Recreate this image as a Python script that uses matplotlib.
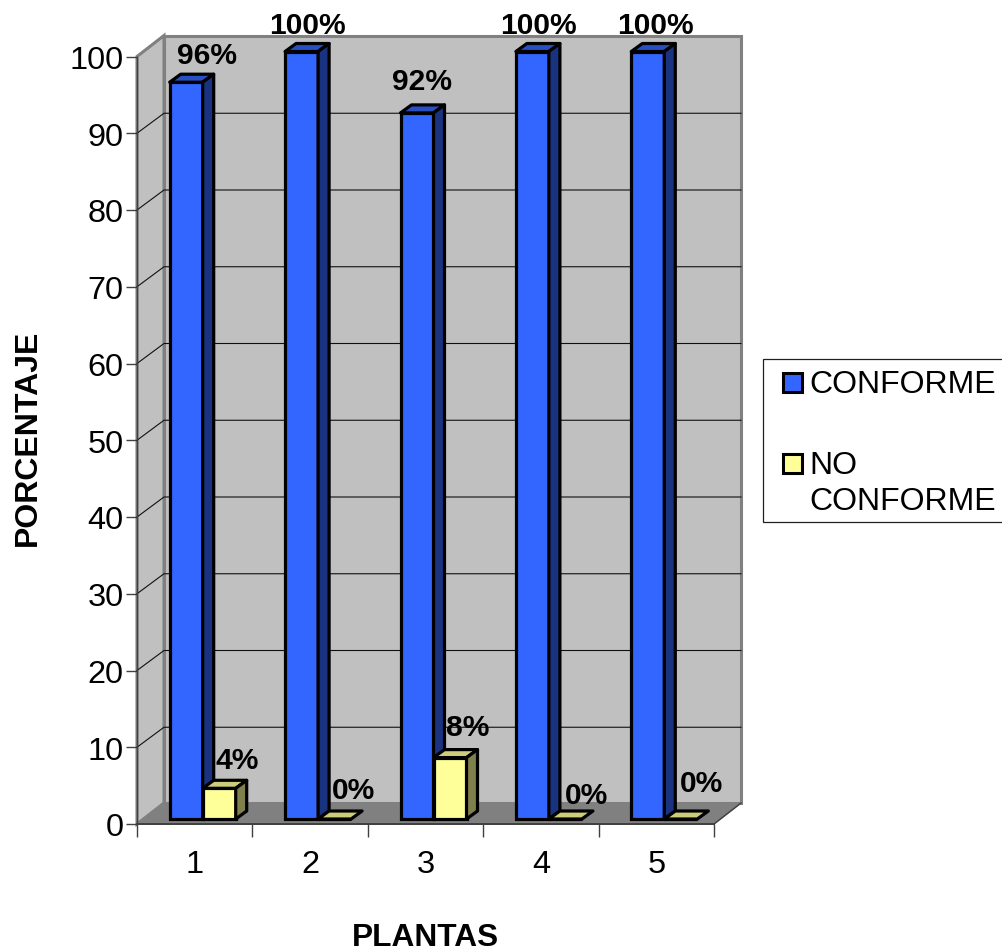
import matplotlib
matplotlib.use("Agg")
import matplotlib.pyplot as plt
from matplotlib.patches import Polygon, Rectangle

plt.rcParams['font.family'] = ['Liberation Sans', 'DejaVu Sans']

# data
plantas = [1, 2, 3, 4, 5]
conforme = [96, 100, 92, 100, 100]
no_conforme = [4, 0, 8, 0, 0]
series_names = ["CONFORME", "NO\nCONFORME"]
y_ticks = [0, 10, 20, 30, 40, 50, 60, 70, 80, 90, 100]

# label nudges, in pixels from the top of the bar front
conforme_nudge = [(21, 27), (6, 26), (5, 32), (6, 26), (8, 26)]
no_conforme_nudge = [(18, 28), (19, 29), (18, 31), (21, 24), (21, 36)]

W, H = 1002, 953
fig = plt.figure(figsize=(W / 100, H / 100), dpi=100, facecolor='white')
ax = fig.add_axes([137 / W, (H - 825) / H, 577 / W, 767.5 / H])
ax.set_xlim(0.5, 5.5)
ax.set_ylim(0, 100)
ax.patch.set_visible(False)

# pixels per data unit
sx = 577 / 5
sy = 767.5 / 100


def pt(x, y, px=0, py=0):
    # data point moved by a pixel offset (py is up)
    return (x + px / sx, y + py / sy)


wall_dx, wall_dy = 27, 21
grey = '#808080'

# walls and floor
back = Rectangle(pt(0.5, 0, wall_dx, wall_dy), 5, 100, fc='#C0C0C0', ec=grey, lw=2.2, zorder=1, clip_on=False)
ax.add_patch(back)
left = Polygon([pt(0.5, 0), pt(0.5, 0, wall_dx, wall_dy), pt(0.5, 100, wall_dx, wall_dy), pt(0.5, 100)],
               fc='#C0C0C0', ec=grey, lw=2.2, zorder=1, clip_on=False)
ax.add_patch(left)
floor = Polygon([pt(0.5, 0), pt(5.5, 0), pt(5.5, 0, wall_dx, wall_dy), pt(0.5, 0, wall_dx, wall_dy)],
                fc=grey, ec=grey, lw=1, zorder=2, clip_on=False)
ax.add_patch(floor)

# gridlines on the back wall and the left wall
for v in y_ticks[1:-1]:
    a = pt(0.5, v)
    b = pt(0.5, v, wall_dx, 20)
    c = pt(5.5, v, wall_dx, 20)
    ax.plot([a[0], b[0], c[0]], [a[1], b[1], c[1]], color='#101010', lw=0.8, zorder=2, clip_on=False)

# right hand floor edge
ax.plot(*zip(pt(5.5, 0), pt(5.5, 0, wall_dx, wall_dy)), color='#404040', lw=1, zorder=3, clip_on=False)

base_dx, base_dy = 8, 5
depth_dx, depth_dy = 11, 8
bar_w = 33 / sx
base = base_dy / sy
edge_lw = 2.3


def draw_bars(positions, values, front, side, top, z):
    ax.bar(positions, values, width=bar_w, bottom=base, align='edge', color=front,
           edgecolor='black', linewidth=edge_lw, zorder=z, clip_on=False)
    for x, v in zip(positions, values):
        y = v + base
        ax.add_patch(Polygon([pt(x, y), pt(x + bar_w, y), pt(x + bar_w, y, depth_dx, depth_dy), pt(x, y, depth_dx, depth_dy)],
                             fc=top, ec='black', lw=edge_lw, joinstyle='round', zorder=z, clip_on=False))
        if v > 0:
            ax.add_patch(Polygon([pt(x + bar_w, base), pt(x + bar_w, y), pt(x + bar_w, y, depth_dx, depth_dy),
                                  pt(x + bar_w, base, depth_dx, depth_dy)],
                                 fc=side, ec='black', lw=edge_lw, joinstyle='round', zorder=z, clip_on=False))


x_blue = [p + base_dx / sx - bar_w for p in plantas]
x_yellow = [p + base_dx / sx for p in plantas]
draw_bars(x_blue, conforme, '#3366FF', '#1A3380', '#2850C4', 4)
draw_bars(x_yellow, no_conforme, '#FFFF99', '#80804D', '#CCCC7A', 5)

# data labels
for xs, vals, nudges in [(x_blue, conforme, conforme_nudge), (x_yellow, no_conforme, no_conforme_nudge)]:
    for x, v, (nx, ny) in zip(xs, vals, nudges):
        px_pos = pt(x + bar_w / 2, v + base, nx, ny)
        ax.text(px_pos[0], px_pos[1], f"{v}%", fontsize=21.6, fontweight='bold', color='black',
                ha='center', va='center', zorder=8, clip_on=False)

# axes, ticks
for s in ['top', 'right']:
    ax.spines[s].set_visible(False)
ax.spines['left'].set_color('#404040')
ax.spines['bottom'].set_color('#404040')
ax.spines['left'].set_linewidth(1)
ax.spines['bottom'].set_linewidth(1.4)
ax.spines['left'].set_zorder(6)
ax.spines['bottom'].set_zorder(6)

ax.set_yticks(y_ticks)
ax.tick_params(axis='y', labelsize=23.4, length=8, width=1, color='#404040', pad=1.5)
ax.set_xticks([0.5, 1.5, 2.5, 3.5, 4.5, 5.5])
ax.set_xticklabels([])
ax.tick_params(axis='x', length=9.5, width=1, color='#404040')
for p in plantas:
    ax.annotate(str(p), (p, 0), xytext=(0, -40 * 0.72), textcoords='offset points', fontsize=23.4,
                ha='center', va='center', annotation_clip=False)

fig.text(425 / W, (H - 938) / H, "PLANTAS", fontsize=22.8, fontweight='bold', ha='center', va='center')
fig.text(28 / W, (H - 437.5) / H, "PORCENTAJE", fontsize=23, fontweight='bold', rotation=90, ha='center', va='center')

# legend box
fig.patches.append(Rectangle((763 / W, (H - 523) / H), 245 / W, 163 / H, transform=fig.transFigure,
                             fc='white', ec='#202020', lw=0.9, figure=fig))
for name, color, y_sw, y_txt in [(series_names[0], '#3366FF', 383.5, 385),
                                 (series_names[1], '#FFFF99', 464.5, 484)]:
    fig.patches.append(Rectangle((782.5 / W, (H - y_sw - 9.5) / H), 19 / W, 19 / H, transform=fig.transFigure,
                                 fc=color, ec='black', lw=2.2, figure=fig))
    fig.text(809 / W, (H - y_txt) / H, name, fontsize=23, ha='left', va='center', linespacing=1.23)

fig.savefig("out.png", dpi=100)
